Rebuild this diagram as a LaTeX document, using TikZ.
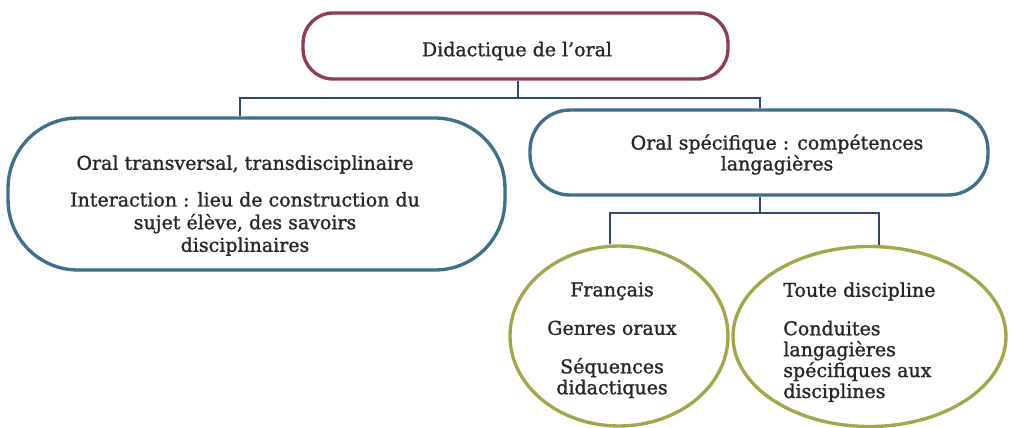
\documentclass[tikz,border=0pt]{standalone}
\usepackage{fontspec}
\setmainfont{DejaVu Serif}[BoldFont=DejaVu Serif, BoldFeatures={FakeBold=1.2}]
\usetikzlibrary{shapes.geometric}
\definecolor{plum}{HTML}{8E3B5E}
\definecolor{tealb}{HTML}{3E7089}
\definecolor{olive2}{HTML}{A3A64B}
\definecolor{connc}{HTML}{2E4A6B}
\begin{document}
\begin{tikzpicture}[x=0.02cm,y=-0.02cm,
  box/.style={draw, line width=1.9pt, rounded corners=#1, inner sep=0pt},
  oval/.style={draw=olive2, line width=1.9pt, ellipse, inner sep=0pt},
  txt/.style={font=\fontsize{10.8}{11.9}\selectfont\bfseries, text=black!85, align=center, inner sep=0pt},
  conn/.style={draw=connc, line width=0.7pt}]
\useasboundingbox (0,0) rectangle (1011,427);
\fill[white] (0,0) rectangle (1011,427);
% boxes
\node[box=0.6cm, draw=plum, minimum width=8.5cm, minimum height=1.32cm] (top) at (515.5,46) {};
\node[box=1.4cm, draw=tealb, minimum width=9.94cm, minimum height=3.04cm] (left) at (256.5,194) {};
\node[box=0.8cm, draw=tealb, minimum width=9.16cm, minimum height=1.7cm] (right) at (759,152.5) {};
\node[oval, minimum width=4.36cm, minimum height=3.6cm] (lE) at (619,336) {};
\node[oval, minimum width=5.46cm, minimum height=3.6cm] (rE) at (869.5,336.5) {};
% texts
\node[txt] (tTop) at (517,51) {Didactique de l’oral};
\node[txt, anchor=north] (tLeft) at (245,155) {Oral transversal, transdisciplinaire\\[9pt]
Interaction : lieu de construction du\\[1pt] sujet élève, des savoirs\\[1pt] disciplinaires};
\node[txt, anchor=north] (tRight) at (777,134) {Oral spécifique : compétences\\ langagières};
\node[txt, anchor=north] (tlE) at (612,282) {Français\\[10pt] Genres oraux\\[10pt] Séquences\\ didactiques};
\node[txt, anchor=north west, align=left] (trE) at (783,282) {Toute discipline\\[10pt] Conduites\\ langagières\\ spécifiques aux\\ disciplines};
% connectors
\coordinate (bus1) at (518,98);
\coordinate (jL) at (240,98);
\coordinate (jR) at (760,98);
\coordinate (bus2) at (760,213);
\coordinate (kL) at (610,213);
\coordinate (kR) at (879,213);
\draw[conn] (top.south -| bus1) -- (bus1);
\draw[conn] (left.north -| jL) -- (jL) -- (jR) -- (right.north -| jR);
\draw[conn] (right.south -| bus2) -- (bus2);
\draw[conn] (lE.north -| kL) -- (kL) -- (kR) -- (rE.north -| kR);
\end{tikzpicture}
\end{document}
